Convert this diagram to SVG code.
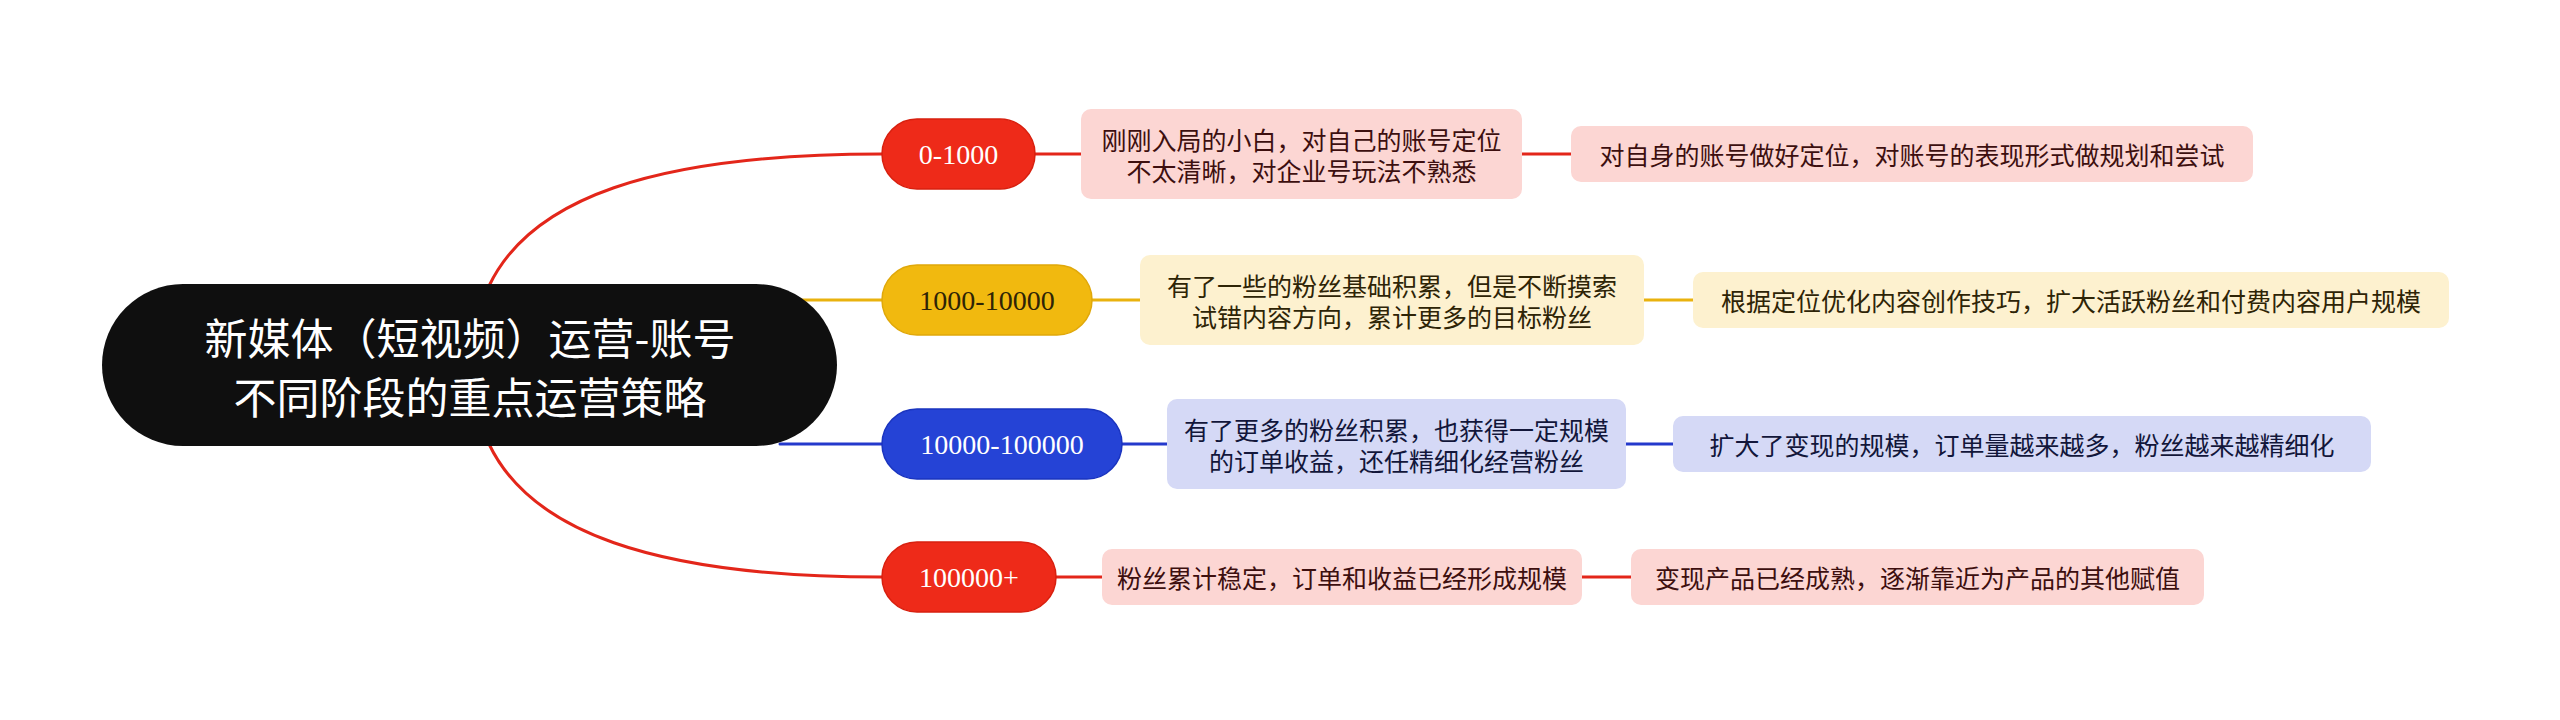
<svg xmlns="http://www.w3.org/2000/svg" width="2560" height="720" viewBox="0 0 2560 720">
<style>
.cjk{font-family:"Noto Sans CJK SC","Noto Sans",sans-serif;}
.root-t{font-size:43px;fill:#ffffff;}
.pill-t{font-family:"Liberation Serif",serif;font-size:28px;}
.t{font-size:25px;}
.ln{fill:none;stroke-width:3;stroke-linecap:round;}
.red{stroke:#e3261a;}
.yel{stroke:#e9b20e;}
.blu{stroke:#2439cc;}
</style>
<rect width="2560" height="720" fill="#ffffff"/>
<g id="connectors">
<path class="ln red" d="M489 286 C 530 200, 650 154, 882 154"/>
<path class="ln red" d="M1035 154 H1081 M1522 154 H1571"/>
<path class="ln yel" d="M780 300 H882 M1092 300 H1140 M1644 300 H1693"/>
<path class="ln blu" d="M780 444 H882 M1122 444 H1167 M1626 444 H1673"/>
<path class="ln red" d="M489 444 C 530 530, 650 577, 882 577"/>
<path class="ln red" d="M1056 577 H1102 M1582 577 H1631"/>
</g>
<g id="root">
<rect x="102" y="284" width="735" height="162" rx="81" fill="#0f0f0f"/>
<text class="cjk root-t" x="470" y="336" text-anchor="middle" dominant-baseline="central">新媒体（短视频）运营-账号</text>
<text class="cjk root-t" x="470" y="395" text-anchor="middle" dominant-baseline="central">不同阶段的重点运营策略</text>
</g>
<g id="n1">
<rect x="882" y="119" width="153" height="70" rx="35" fill="#ee2a19" stroke="#d8200f" stroke-width="1.5"/>
<text class="pill-t" x="958.5" y="154" text-anchor="middle" dominant-baseline="central" fill="#ffffff">0-1000</text>
</g>
<g id="n1a">
<rect x="1081" y="109" width="441" height="90" rx="10" fill="#fcd6d3"/>
<text class="cjk t" x="1301.5" y="139" text-anchor="middle" dominant-baseline="central" fill="#3d0f0f">刚刚入局的小白，对自己的账号定位</text>
<text class="cjk t" x="1301.5" y="170" text-anchor="middle" dominant-baseline="central" fill="#3d0f0f">不太清晰，对企业号玩法不熟悉</text>
</g>
<g id="n1b">
<rect x="1571" y="126" width="682" height="56" rx="10" fill="#fcd6d3"/>
<text class="cjk t" x="1912" y="154" text-anchor="middle" dominant-baseline="central" fill="#3d0f0f">对自身的账号做好定位，对账号的表现形式做规划和尝试</text>
</g>
<g id="n2">
<rect x="882" y="265" width="210" height="70" rx="35" fill="#f1b90f" stroke="#e0a80a" stroke-width="1.5"/>
<text class="pill-t" x="987" y="300" text-anchor="middle" dominant-baseline="central" fill="#2e2406">1000-10000</text>
</g>
<g id="n2a">
<rect x="1140" y="255" width="504" height="90" rx="10" fill="#fdf1cf"/>
<text class="cjk t" x="1392" y="285" text-anchor="middle" dominant-baseline="central" fill="#2e2406">有了一些的粉丝基础积累，但是不断摸索</text>
<text class="cjk t" x="1392" y="316" text-anchor="middle" dominant-baseline="central" fill="#2e2406">试错内容方向，累计更多的目标粉丝</text>
</g>
<g id="n2b">
<rect x="1693" y="272" width="756" height="56" rx="10" fill="#fdf1cf"/>
<text class="cjk t" x="2071" y="300" text-anchor="middle" dominant-baseline="central" fill="#2e2406">根据定位优化内容创作技巧，扩大活跃粉丝和付费内容用户规模</text>
</g>
<g id="n3">
<rect x="882" y="409" width="240" height="70" rx="35" fill="#2543d6" stroke="#1a34bf" stroke-width="1.5"/>
<text class="pill-t" x="1002" y="444" text-anchor="middle" dominant-baseline="central" fill="#ffffff">10000-100000</text>
</g>
<g id="n3a">
<rect x="1167" y="399" width="459" height="90" rx="10" fill="#d5d9f6"/>
<text class="cjk t" x="1396.5" y="429" text-anchor="middle" dominant-baseline="central" fill="#12163a">有了更多的粉丝积累，也获得一定规模</text>
<text class="cjk t" x="1396.5" y="460" text-anchor="middle" dominant-baseline="central" fill="#12163a">的订单收益，还任精细化经营粉丝</text>
</g>
<g id="n3b">
<rect x="1673" y="416" width="698" height="56" rx="10" fill="#d5d9f6"/>
<text class="cjk t" x="2022" y="444" text-anchor="middle" dominant-baseline="central" fill="#12163a">扩大了变现的规模，订单量越来越多，粉丝越来越精细化</text>
</g>
<g id="n4">
<rect x="882" y="542" width="174" height="70" rx="35" fill="#ee2a19" stroke="#d8200f" stroke-width="1.5"/>
<text class="pill-t" x="969" y="577" text-anchor="middle" dominant-baseline="central" fill="#ffffff">100000+</text>
</g>
<g id="n4a">
<rect x="1102" y="549" width="480" height="56" rx="10" fill="#fcd6d3"/>
<text class="cjk t" x="1342" y="577" text-anchor="middle" dominant-baseline="central" fill="#3d0f0f">粉丝累计稳定，订单和收益已经形成规模</text>
</g>
<g id="n4b">
<rect x="1631" y="549" width="573" height="56" rx="10" fill="#fcd6d3"/>
<text class="cjk t" x="1917.5" y="577" text-anchor="middle" dominant-baseline="central" fill="#3d0f0f">变现产品已经成熟，逐渐靠近为产品的其他赋值</text>
</g>
</svg>
